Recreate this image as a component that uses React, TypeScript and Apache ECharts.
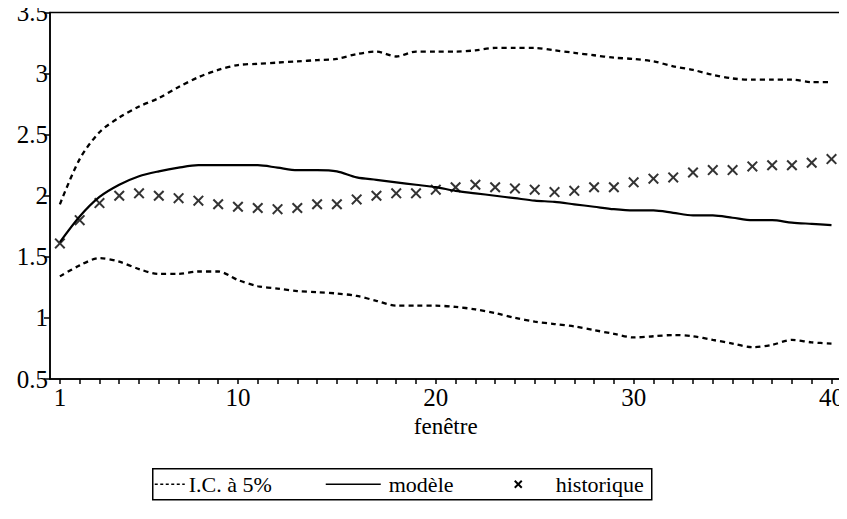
import React, { useEffect, useRef } from "react";
import * as echarts from "echarts";

const fenetre: number[] = Array.from({ length: 40 }, (_, i) => i + 1);

const icUpper: number[] = [
  1.93, 2.30, 2.52, 2.64, 2.73, 2.80, 2.89, 2.97, 3.03, 3.07,
  3.08, 3.09, 3.10, 3.11, 3.12, 3.16, 3.18, 3.14, 3.18, 3.18,
  3.18, 3.19, 3.21, 3.21, 3.21, 3.19, 3.17, 3.15, 3.13, 3.12,
  3.10, 3.06, 3.03, 2.99, 2.96, 2.95, 2.95, 2.95, 2.93, 2.93,
];

const icLower: number[] = [
  1.34, 1.43, 1.49, 1.46, 1.40, 1.36, 1.36, 1.38, 1.38, 1.31,
  1.26, 1.24, 1.22, 1.21, 1.20, 1.18, 1.14, 1.10, 1.10, 1.10,
  1.09, 1.07, 1.04, 1.00, 0.97, 0.95, 0.93, 0.90, 0.87, 0.84,
  0.85, 0.86, 0.85, 0.82, 0.79, 0.76, 0.78, 0.82, 0.80, 0.79,
];

const modele: number[] = [
  1.62, 1.83, 1.99, 2.09, 2.16, 2.20, 2.23, 2.25, 2.25, 2.25,
  2.25, 2.23, 2.21, 2.21, 2.20, 2.15, 2.13, 2.11, 2.09, 2.07,
  2.04, 2.02, 2.00, 1.98, 1.96, 1.95, 1.93, 1.91, 1.89, 1.88,
  1.88, 1.86, 1.84, 1.84, 1.82, 1.80, 1.80, 1.78, 1.77, 1.76,
];

const historique: number[] = [
  1.61, 1.80, 1.94, 2.00, 2.02, 2.00, 1.98, 1.96, 1.93, 1.91,
  1.90, 1.89, 1.90, 1.93, 1.93, 1.97, 2.00, 2.02, 2.02, 2.05,
  2.07, 2.09, 2.07, 2.06, 2.05, 2.03, 2.04, 2.07, 2.07, 2.11,
  2.14, 2.15, 2.19, 2.21, 2.21, 2.24, 2.25, 2.25, 2.27, 2.30,
];

const xLabelValues: number[] = [1, 10, 20, 30, 40];
const legendLabels: string[] = ["I.C. à 5%", "modèle", "historique"];
const xAxisName = "fenêtre";

const FONT = "Liberation Serif";
const CROSS =
  "path://M0,1.3L1.3,0L5,3.7L8.7,0L10,1.3L6.3,5L10,8.7L8.7,10L5,6.3L1.3,10L0,8.7L3.7,5Z";

export default function App() {
  const ref = useRef<HTMLDivElement>(null);

  useEffect(() => {
    if (!ref.current) return;
    const chart = echarts.init(ref.current, null, { renderer: "svg" });
    const pair = (arr: number[]) => arr.map((v, i) => [fenetre[i], v]);
    const dashed = { color: "#000", width: 2.3, type: [5, 4] as any };
    const txt = (x: number, t: string) => ({
      type: "text",
      x,
      y: 16,
      style: {
        text: t,
        fontFamily: FONT,
        fontSize: 22,
        fill: "#000",
        verticalAlign: "middle",
        align: "left",
      },
    });

    chart.setOption({
      animation: false,
      backgroundColor: "#fff",
      textStyle: { fontFamily: FONT, color: "#000" },
      grid: {
        left: 50,
        right: 4,
        top: 12,
        bottom: 140,
        show: true,
        borderColor: "#000",
        borderWidth: 1.5,
        backgroundColor: "transparent",
      },
      xAxis: {
        type: "value",
        min: 0.5,
        max: 40.5,
        name: xAxisName,
        nameLocation: "middle",
        nameGap: 34,
        nameTextStyle: { fontFamily: FONT, fontSize: 23, color: "#000" },
        axisLine: { show: true, lineStyle: { color: "#000", width: 1.5 } },
        axisTick: {
          show: true,
          length: 5,
          customValues: fenetre,
          lineStyle: { color: "#000", width: 1.5 },
        },
        axisLabel: {
          customValues: xLabelValues,
          fontFamily: FONT,
          fontSize: 25,
          color: "#000",
          margin: 6,
        },
        splitLine: { show: false },
      },
      yAxis: {
        type: "value",
        min: 0.5,
        max: 3.5,
        interval: 0.5,
        axisLine: { show: true, lineStyle: { color: "#000", width: 1.5 } },
        axisTick: { show: true, length: 6, lineStyle: { color: "#000", width: 1.5 } },
        axisLabel: {
          fontFamily: FONT,
          fontSize: 25,
          color: "#000",
          margin: 2,
          padding: [5, 0, 0, 0],
        },
        splitLine: { show: false },
      },
      series: [
        {
          name: legendLabels[0],
          type: "line",
          data: pair(icUpper),
          smooth: 0.3,
          symbol: "none",
          lineStyle: dashed,
        },
        {
          name: legendLabels[0],
          type: "line",
          data: pair(icLower),
          smooth: 0.3,
          symbol: "none",
          lineStyle: dashed,
        },
        {
          name: legendLabels[1],
          type: "line",
          data: pair(modele),
          smooth: 0.3,
          symbol: "none",
          lineStyle: { color: "#000", width: 2.2 },
        },
        {
          name: legendLabels[2],
          type: "scatter",
          data: pair(historique),
          symbol: CROSS,
          symbolSize: [11, 11],
          itemStyle: { color: "#000" },
          z: 5,
        },
      ],
      graphic: [
        {
          type: "group",
          left: 152,
          top: 468,
          children: [
            {
              type: "rect",
              shape: { x: 0, y: 0, width: 499, height: 31 },
              style: { fill: "#fff", stroke: "#000", lineWidth: 1.5 },
            },
            {
              type: "line",
              shape: { x1: 2, y1: 15.5, x2: 32, y2: 15.5 },
              style: { stroke: "#000", lineWidth: 1.5, lineDash: [3, 2.5] },
            },
            txt(36, legendLabels[0]),
            {
              type: "line",
              shape: { x1: 173, y1: 15.5, x2: 228, y2: 15.5 },
              style: { stroke: "#000", lineWidth: 1.5 },
            },
            txt(236, legendLabels[1]),
            {
              type: "line",
              shape: { x1: 362, y1: 12, x2: 369, y2: 19 },
              style: { stroke: "#000", lineWidth: 2 },
            },
            {
              type: "line",
              shape: { x1: 369, y1: 12, x2: 362, y2: 19 },
              style: { stroke: "#000", lineWidth: 2 },
            },
            txt(403, legendLabels[2]),
          ],
        },
      ],
    });

    return () => chart.dispose();
  }, []);

  return <div ref={ref} style={{ width: 847, height: 519, margin: -8 }} />;
}
